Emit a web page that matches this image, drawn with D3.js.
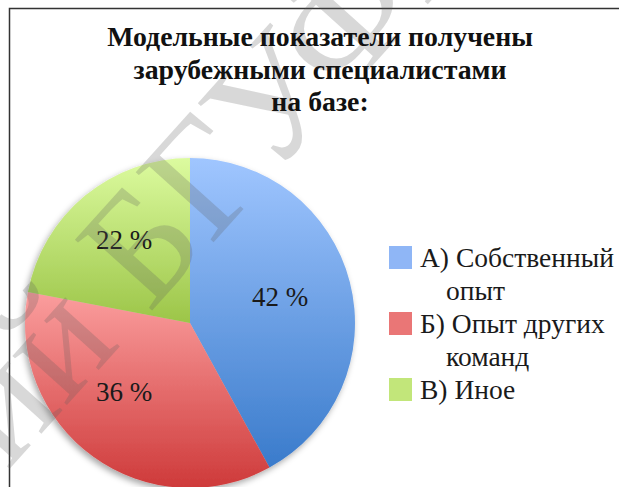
<!DOCTYPE html>
<html>
<head>
<meta charset="utf-8">
<script src="https://cdn.jsdelivr.net/npm/d3@7"></script>
<style>
html,body{margin:0;padding:0;background:#fff;}
svg{display:block;}
</style>
</head>
<body>
<svg id="chart" width="619" height="487"></svg>
<script>
const titleLines = ["Модельные показатели получены", "зарубежными специалистами", "на базе:"];
const categories = ["А) Собственный опыт", "Б) Опыт других команд", "В) Иное"];
const legendLines = [["А) Собственный", "опыт"], ["Б) Опыт других", "команд"], ["В) Иное"]];
const values = [42, 36, 22];
const valueLabels = ["42 %", "36 %", "22 %"];
const colorsTop = ["#a0c6ff", "#fb9e9e", "#dcfb9f"];
const colorsBottom = ["#3a7bcb", "#ce3a3a", "#9cc548"];
const legendColors = ["#8fb6f6", "#ea7676", "#c2e67a"];
const watermarkBefore = "Репозиторий";
const watermarkAfter = "БГУФК";

const svg = d3.select("#chart");
const W = 619, H = 487;
const SERIF = '"Liberation Serif"';

const defs = svg.append("defs");
categories.forEach((c, i) => {
  const g = defs.append("linearGradient").attr("id", "grad" + i)
    .attr("x1", 0).attr("y1", 0).attr("x2", 0).attr("y2", 1);
  g.append("stop").attr("offset", "0%").attr("stop-color", colorsTop[i]);
  g.append("stop").attr("offset", "100%").attr("stop-color", colorsBottom[i]);
});
const f = defs.append("filter").attr("id", "shadow").attr("x", "-10%").attr("y", "-10%").attr("width", "120%").attr("height", "120%");
f.append("feDropShadow").attr("dx", -2).attr("dy", 3).attr("stdDeviation", 3).attr("flood-color", "#000").attr("flood-opacity", 0.35);

// frame
svg.append("path")
  .attr("d", `M9.5,${H} L9.5,8.5 L${W},8.5`)
  .attr("fill", "none").attr("stroke", "#333").attr("stroke-width", 1.5);

// pie
const cx = 190, cy = 323, r = 165;
const pie = d3.pie().sort(null).value(d => d)(values);
const arc = d3.arc().innerRadius(0).outerRadius(r);
const gPie = svg.append("g").attr("transform", `translate(${cx},${cy})`);
const gSlices = gPie.append("g").attr("filter", "url(#shadow)");
gSlices.selectAll("path").data(pie).join("path")
  .attr("d", arc)
  .attr("fill", (d, i) => `url(#grad${i})`);

// watermark (drawn under texts)
const wm = svg.append("g").attr("transform", "translate(149,314) rotate(-48)")
  .attr("fill", "#5a5a5a").attr("fill-opacity", 0.24);
wm.append("text").attr("x", 0).attr("y", 0)
  .style("font-family", SERIF).style("font-size", "160px").text(watermarkAfter);
wm.append("text").attr("x", -40).attr("y", 0).attr("text-anchor", "end")
  .style("font-family", SERIF).style("font-size", "160px").text(watermarkBefore);

// title
const title = svg.append("text")
  .style("font-family", SERIF).style("font-weight", "bold").style("font-size", "27.8px")
  .attr("fill", "#111").attr("text-anchor", "middle");
titleLines.forEach((t, i) => {
  title.append("tspan").attr("x", 320).attr("y", 46 + i * 32.5).text(t);
});

const labelPos = [[90, -26], [-66, 69], [-66, -83]];
gPie.selectAll("text.lbl").data(pie).join("text")
  .attr("class", "lbl")
  .attr("x", (d, i) => labelPos[i][0])
  .attr("y", (d, i) => labelPos[i][1])
  .attr("text-anchor", "middle")
  .attr("dominant-baseline", "central")
  .style("font-family", SERIF).style("font-size", "27px").attr("fill", "#1a1a1a")
  .text((d, i) => valueLabels[i]);

// legend
const leg = svg.append("g");
const legY = [258, 324, 390];
categories.forEach((c, i) => {
  leg.append("rect").attr("x", 389).attr("y", legY[i] - 12).attr("width", 23).attr("height", 23)
    .attr("fill", legendColors[i]);
  const t = leg.append("text").style("font-family", SERIF).style("font-size", "27.5px").attr("fill", "#1a1a1a");
  legendLines[i].forEach((ln, j) => {
    t.append("tspan").attr("x", j === 0 ? 420 : 446).attr("y", legY[i] + 9 + j * 33).text(ln);
  });
});
</script>
</body>
</html>
